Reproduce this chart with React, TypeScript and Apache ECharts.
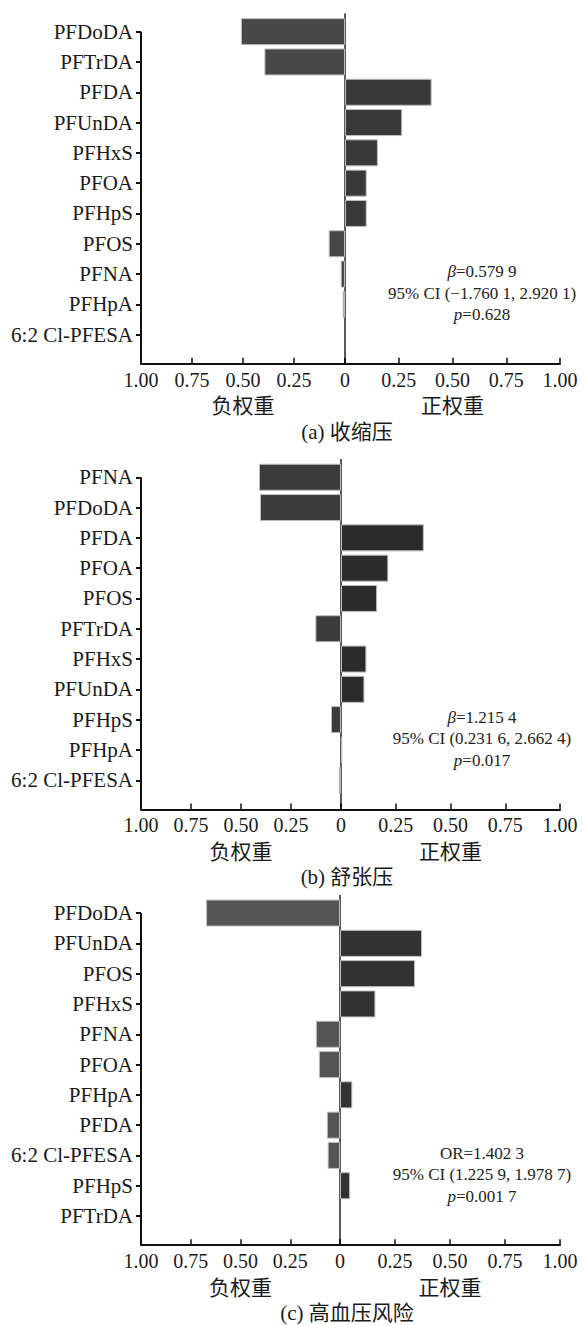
import React, { useEffect, useRef } from "react";
import * as echarts from "echarts";

// ---- data ----
const CATS_A = ["PFDoDA", "PFTrDA", "PFDA", "PFUnDA", "PFHxS", "PFOA", "PFHpS", "PFOS", "PFNA", "PFHpA", "6:2 Cl-PFESA"];
const WEIGHTS_A = [-0.51, -0.395, 0.403, 0.266, 0.153, 0.101, 0.101, -0.08, -0.021, -0.011, 0];

const CATS_B = ["PFNA", "PFDoDA", "PFDA", "PFOA", "PFOS", "PFTrDA", "PFHxS", "PFUnDA", "PFHpS", "PFHpA", "6:2 Cl-PFESA"];
const WEIGHTS_B = [-0.41, -0.405, 0.378, 0.216, 0.165, -0.128, 0.116, 0.107, -0.05, 0.006, -0.011];

const CATS_C = ["PFDoDA", "PFUnDA", "PFOS", "PFHxS", "PFNA", "PFOA", "PFHpA", "PFDA", "6:2 Cl-PFESA", "PFHpS", "PFTrDA"];
const WEIGHTS_C = [-0.673, 0.373, 0.341, 0.161, -0.121, -0.106, 0.056, -0.066, -0.062, 0.046, 0];

const STATS_A = ["{i|β}=0.579 9", "95% CI (−1.760 1, 2.920 1)", "{i|p}=0.628"];
const STATS_B = ["{i|β}=1.215 4", "95% CI (0.231 6, 2.662 4)", "{i|p}=0.017"];
const STATS_C = ["OR=1.402 3", "95% CI (1.225 9, 1.978 7)", "{i|p}=0.001 7"];

const CAPTIONS = ["(a) 收缩压", "(b) 舒张压", "(c) 高血压风险"];
const NEG_NAME = "负权重";
const POS_NAME = "正权重";
const TICK_STEP = 0.25;

// ---- layout / style ----
const FONT = '"Liberation Serif","Times New Roman","Noto Sans CJK SC",serif';
const AX_LEFT = 141;
const AX_RIGHT = 560;
const BAND = 30.3;
const OFFSET = 14;
const LAYOUT = [
  { top: 16.5, zero: 345, neg: "#474747", pos: "#393939" },
  { top: 462.1, zero: 341, neg: "#3b3b3b", pos: "#2b2b2b" },
  { top: 897.9, zero: 340, neg: "#555555", pos: "#323232" },
];
const PANELS = [
  { cats: CATS_A, w: WEIGHTS_A, stats: STATS_A, cap: CAPTIONS[0] },
  { cats: CATS_B, w: WEIGHTS_B, stats: STATS_B, cap: CAPTIONS[1] },
  { cats: CATS_C, w: WEIGHTS_C, stats: STATS_C, cap: CAPTIONS[2] },
];

export default function App() {
  const ref = useRef<HTMLDivElement>(null);
  useEffect(() => {
    if (!ref.current) return;
    const chart = echarts.init(ref.current, null, { renderer: "svg" });
    const grid: any[] = [];
    const xAxis: any[] = [];
    const yAxis: any[] = [];
    const series: any[] = [];
    const axisLine = { show: true, onZero: false, lineStyle: { color: "#111", width: 2 } };
    const axisTick = { show: true, inside: true, length: 6, lineStyle: { color: "#111", width: 1.5 } };
    const nameStyle = { fontSize: 21, color: "#1a1a1a", fontFamily: FONT };
    const labelStyle = { fontSize: 20, color: "#1a1a1a", fontFamily: FONT, margin: 6 };

    PANELS.forEach((p, i) => {
      const L = LAYOUT[i];
      const h = BAND * p.cats.length;
      grid.push({ left: AX_LEFT, top: L.top, width: L.zero - AX_LEFT, height: h });
      grid.push({ left: L.zero, top: L.top, width: AX_RIGHT - L.zero, height: h });
      xAxis.push({
        type: "value", gridIndex: 2 * i, min: -1, max: 0, interval: TICK_STEP, offset: OFFSET,
        axisLine, axisTick, splitLine: { show: false },
        axisLabel: { ...labelStyle, formatter: (v: number) => (v === 0 ? "0" : Math.abs(v).toFixed(2)) },
        name: NEG_NAME, nameLocation: "middle", nameGap: 32, nameTextStyle: nameStyle,
      });
      xAxis.push({
        type: "value", gridIndex: 2 * i + 1, min: 0, max: 1, interval: TICK_STEP, offset: OFFSET,
        axisLine, axisTick, splitLine: { show: false },
        axisLabel: { ...labelStyle, formatter: (v: number) => (v === 0 ? "" : v.toFixed(2)) },
        name: POS_NAME, nameLocation: "middle", nameGap: 32, nameTextStyle: nameStyle,
      });
      yAxis.push({
        type: "category", gridIndex: 2 * i, data: p.cats, inverse: true, position: "left",
        axisLine: { show: false, onZero: false },
        axisTick: { show: true, alignWithLabel: true, length: 5, lineStyle: { color: "#111", width: 2 } },
        axisLabel: { fontSize: 21, color: "#1a1a1a", fontFamily: FONT, margin: 8 },
        splitLine: { show: false },
      });
      yAxis.push({
        type: "category", gridIndex: 2 * i + 1, data: p.cats, inverse: true, show: false,
        axisLine: { show: false, onZero: false },
      });
      const border = { borderColor: "#bdbdbd", borderWidth: 1 };
      series.push({
        type: "bar", xAxisIndex: 2 * i, yAxisIndex: 2 * i, barWidth: 27,
        data: p.w.map((v) => (v < 0 ? v : "-")),
        itemStyle: { color: L.neg, ...border },
      });
      series.push({
        type: "bar", xAxisIndex: 2 * i + 1, yAxisIndex: 2 * i + 1, barWidth: 27,
        data: p.w.map((v) => (v > 0 ? v : "-")),
        itemStyle: { color: L.pos, ...border },
      });
    });

    chart.setOption({ animation: false, grid, xAxis, yAxis, series });

    const graphic: any[] = [];
    PANELS.forEach((p, i) => {
      const L = LAYOUT[i];
      const h = BAND * p.cats.length;
      const axisY = L.top + h + OFFSET;
      const zx = chart.convertToPixel({ xAxisIndex: 2 * i + 1 }, 0) as number;
      const lx = chart.convertToPixel({ xAxisIndex: 2 * i }, -1) as number;
      const y0 = chart.convertToPixel({ yAxisIndex: 2 * i }, p.cats[0]) as number;
      graphic.push({
        type: "line", shape: { x1: lx, y1: y0, x2: lx, y2: axisY },
        style: { stroke: "#111", lineWidth: 2 },
      });
      graphic.push({
        type: "line", shape: { x1: zx, y1: L.top - 3, x2: zx, y2: axisY },
        style: { stroke: "#222", lineWidth: 1.5 },
      });
      p.stats.forEach((t, k) => {
        graphic.push({
          type: "text", x: 482, y: axisY - 92 + k * 21.5,
          style: {
            text: t, fontSize: 17, fontFamily: FONT, fill: "#222",
            align: "center", verticalAlign: "middle",
            rich: { i: { fontStyle: "italic", fontSize: 17, fontFamily: FONT, fill: "#222" } },
          },
        });
      });
      graphic.push({
        type: "text", x: 347, y: axisY + 68,
        style: { text: p.cap, fontSize: 21, fontFamily: FONT, fill: "#1a1a1a", align: "center", verticalAlign: "middle" },
      });
    });
    chart.setOption({ graphic });

    return () => chart.dispose();
  }, []);
  return <div ref={ref} style={{ position: "absolute", left: 0, top: 0, width: 583, height: 1325 }} />;
}
